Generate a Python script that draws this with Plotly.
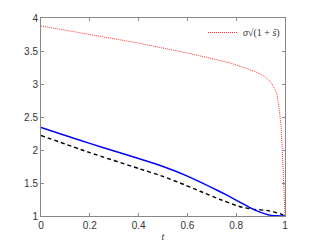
import plotly.graph_objects as go

t_red = [0.0, 0.2, 0.4, 0.6, 0.7, 0.775, 0.83, 0.877, 0.918, 0.945, 0.966, 0.975, 0.984, 0.989, 0.993, 0.997, 1.0]
v_red = [3.88, 3.75, 3.62, 3.47, 3.39, 3.32, 3.25, 3.19, 3.11, 3.015, 2.86, 2.66, 2.36, 2.05, 1.65, 1.30, 1.0]

t_blue = [0.0, 0.1, 0.2, 0.3, 0.4, 0.5, 0.6, 0.7, 0.76, 0.82, 0.86, 0.9, 0.93, 0.96, 1.0]
v_blue = [2.34, 2.22, 2.10, 1.985, 1.87, 1.75, 1.605, 1.43, 1.32, 1.20, 1.12, 1.055, 1.02, 1.003, 1.0]

t_black = [0.0, 0.2, 0.4, 0.5, 0.57, 0.652, 0.734, 0.816, 0.871, 0.925, 0.98, 1.0]
v_black = [2.22, 1.96, 1.72, 1.60, 1.50, 1.375, 1.25, 1.14, 1.10, 1.085, 1.035, 1.0]

x_ticks = [0, 0.2, 0.4, 0.6, 0.8, 1]
y_ticks = [1, 1.5, 2, 2.5, 3, 3.5, 4]

fig = go.Figure()
fig.add_trace(go.Scatter(x=t_black, y=v_black, mode="lines", showlegend=False,
                         line=dict(color="black", width=1.4, dash="4px,3px", shape="spline", smoothing=0.4)))
fig.add_trace(go.Scatter(x=t_blue, y=v_blue, mode="lines", showlegend=False,
                         line=dict(color="blue", width=1.5, shape="spline", smoothing=0.4)))
fig.add_trace(go.Scatter(x=t_red, y=v_red, mode="lines", name="<i>σ</i>√(1 + <i>ŝ</i>)",
                         line=dict(color="#ff3333", width=1, dash="1px,1px")))

axis_common = dict(showline=True, linecolor="#888888", linewidth=1, mirror="ticks",
                   ticks="inside", ticklen=3, tickcolor="#888888", showgrid=False, automargin=False,
                   zeroline=False, tickfont=dict(family="Liberation Sans, Arial", size=10, color="#333333"))
fig.update_xaxes(range=[0, 1], tickvals=x_ticks, ticktext=[str(v) for v in x_ticks],
                 title=dict(text="<i>t</i>", font=dict(family="Liberation Serif", size=10, color="#333333"), standoff=2),
                 **axis_common)
fig.update_yaxes(range=[1, 4], tickvals=y_ticks, ticktext=["1", "1.5", "2", "2.5", "3", "3.5", "4"],
                 **axis_common)
fig.update_layout(width=315, height=244, margin=dict(l=41, r=30, t=18, b=28),
                  plot_bgcolor="white", paper_bgcolor="white",
                  legend=dict(x=1, y=1, xanchor="right", yanchor="top", bgcolor="rgba(255,255,255,0)",
                              font=dict(family="Liberation Serif", size=10, color="#333333"),
                              itemwidth=30, tracegroupgap=0))
fig.write_html("out.html", config={"displayModeBar": False},
               post_script="document.body.style.margin='0';document.body.style.overflow='hidden';")
